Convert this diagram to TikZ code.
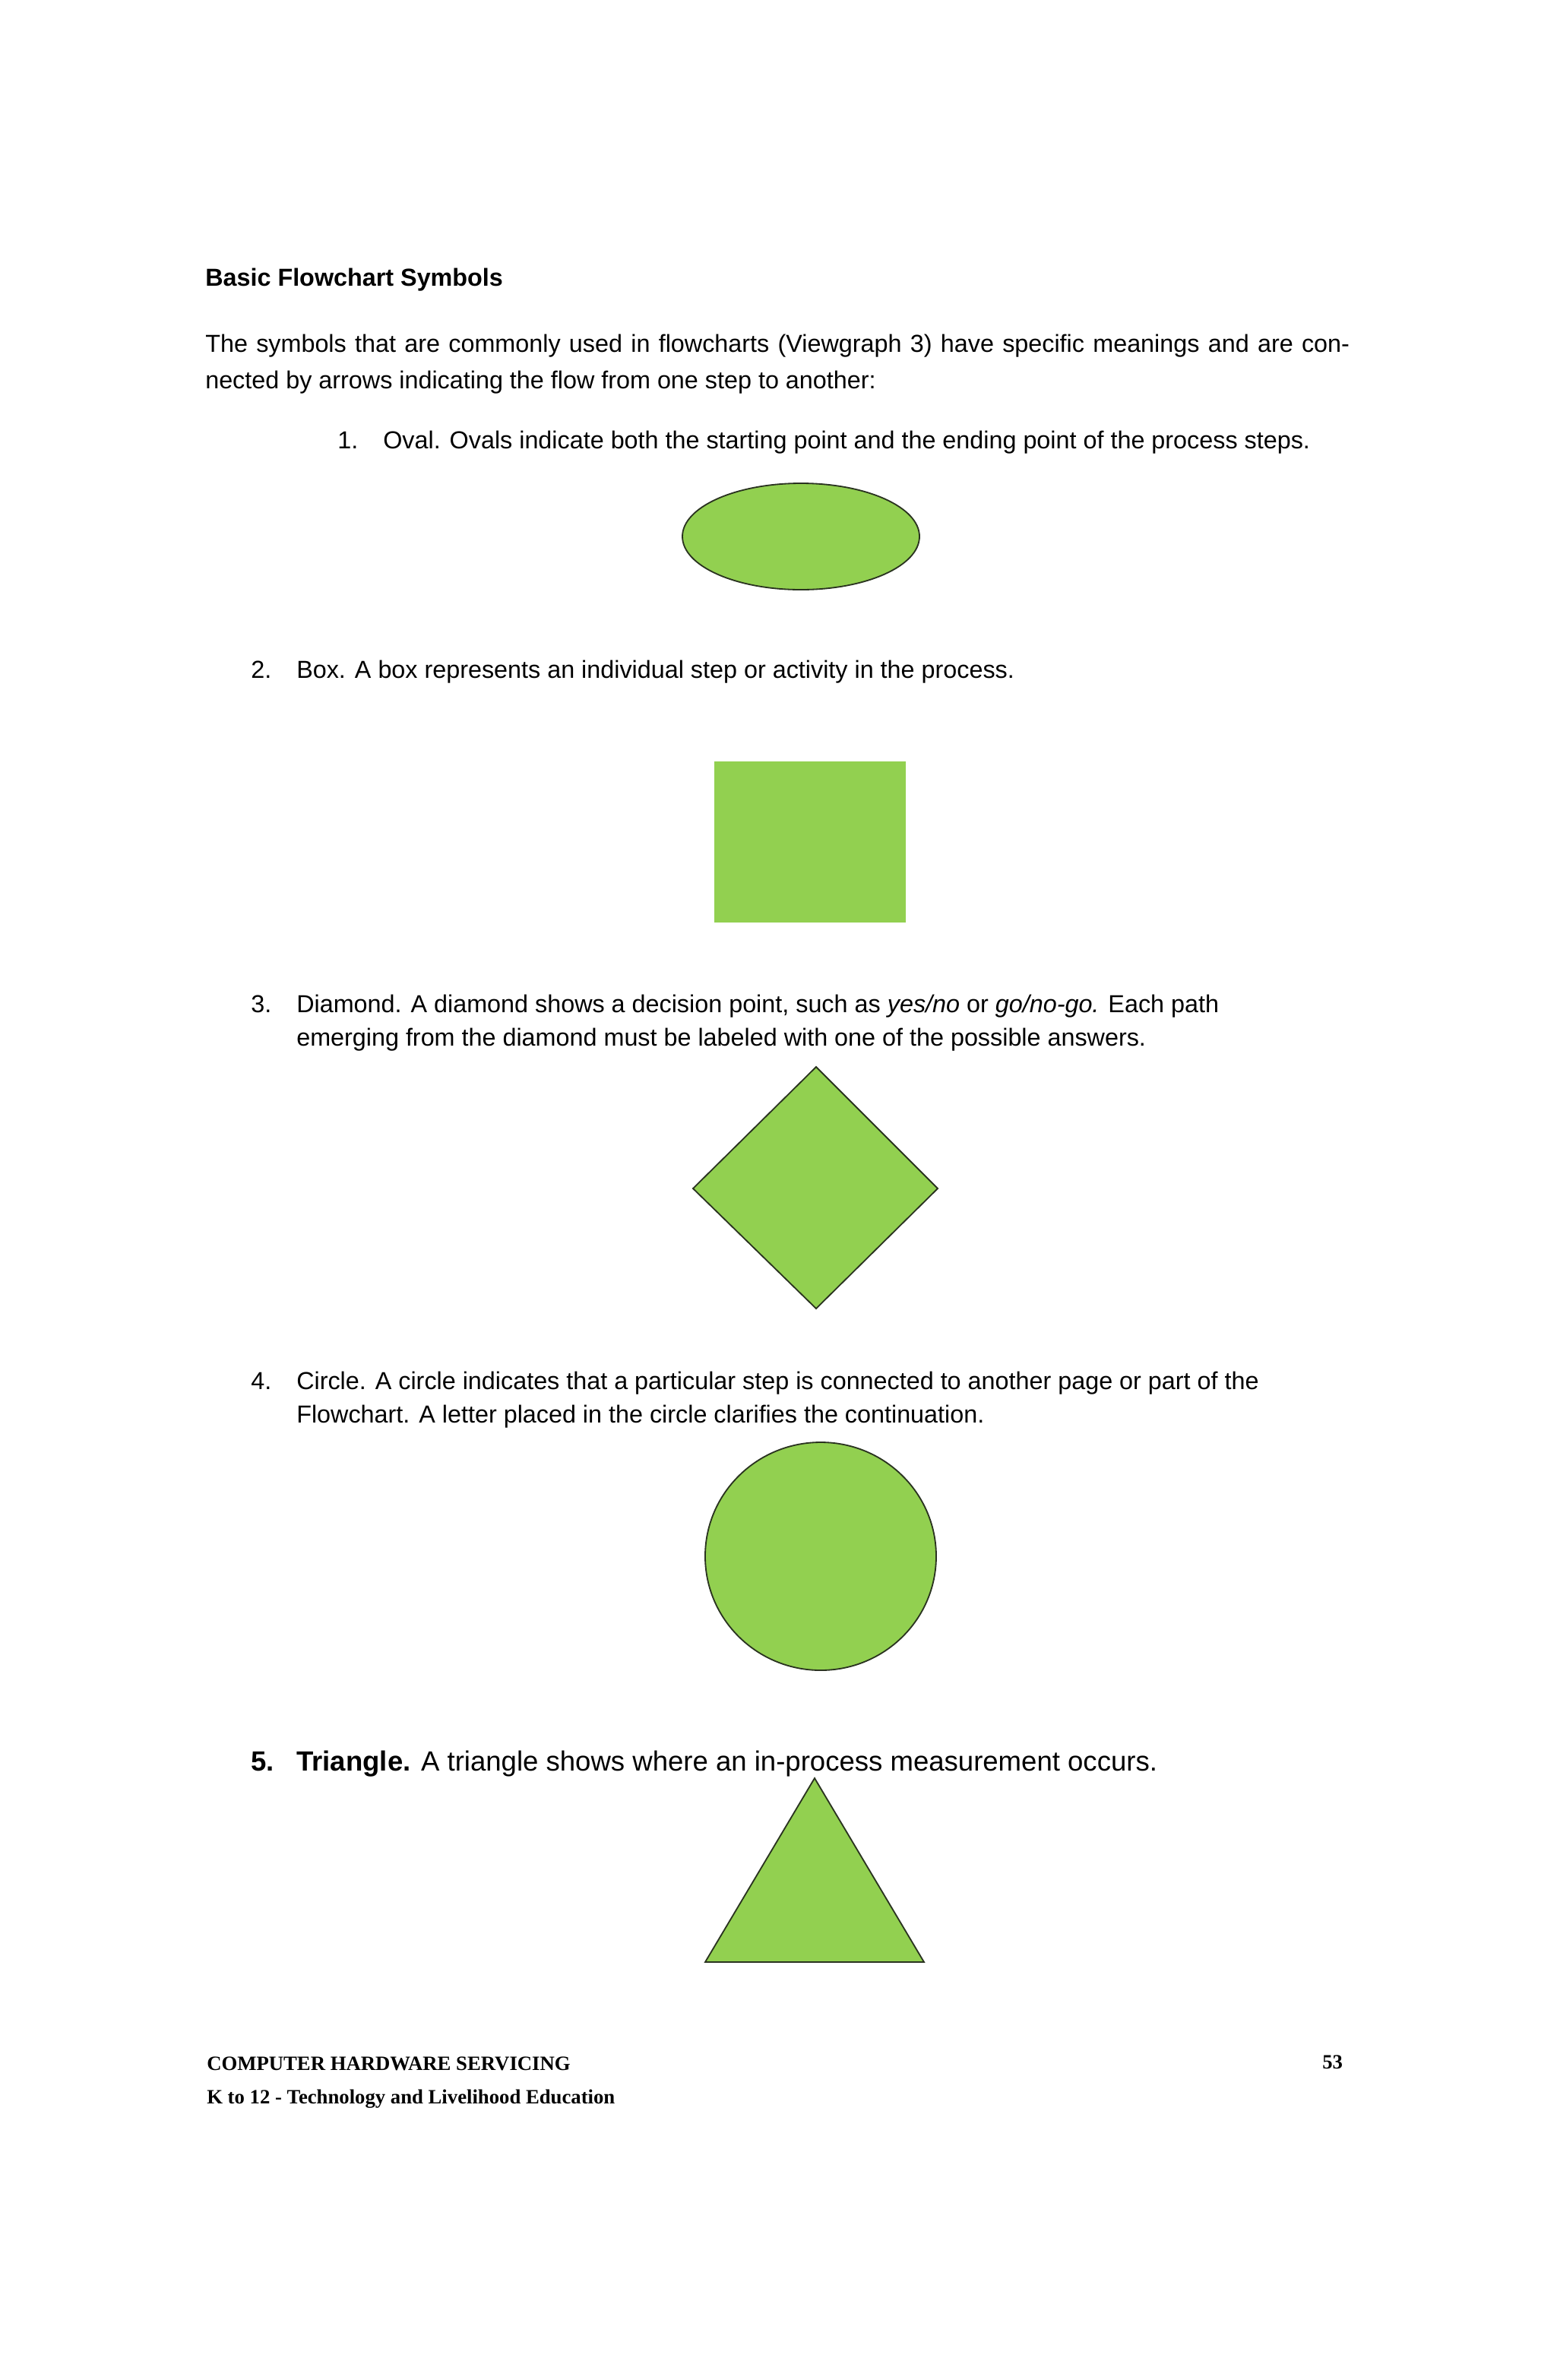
\documentclass[tikz,border=0pt]{standalone}
\usepackage{fontspec}
\setmainfont{Liberation Sans}
\newfontfamily\footfont{Liberation Serif}
\usetikzlibrary{shapes.geometric}
\definecolor{sgreen}{HTML}{92D050}
\definecolor{sedge}{HTML}{2A3320}
\begin{document}
\begin{tikzpicture}[x=0.05cm,y=-0.05cm,
  txt/.style={anchor=base west,inner sep=0pt,font=\fontsize{23}{34}\selectfont},
  shp/.style={fill=sgreen,draw=sedge,line width=1.3pt},
  foot/.style={anchor=base west,inner sep=0pt,font=\footfont\bfseries\fontsize{19}{24}\selectfont}]
\useasboundingbox[fill=white] (0,0) rectangle (1024,1566);
\node[txt,font=\bfseries\fontsize{23}{34}\selectfont] (title) at (135,188) {Basic Flowchart Symbols};
\node[txt,anchor=north west,text width=37.65cm,align=justify] (intro) at (135,220) {The symbols that are commonly used in flowcharts (Viewgraph 3) have specific meanings and are connected by arrows indicating the flow from one step to another:};
\node[txt] (n1) at (222,295) {1.};
\node[txt] (t1) at (252,295) {Oval. Ovals indicate both the starting point and the ending point of the process steps.};
\node[shp,ellipse,minimum width=7.8cm,minimum height=3.5cm,inner sep=0pt] (oval) at (527,353) {};
\node[txt] (n2) at (165,446) {2.};
\node[txt] (t2) at (195,446) {Box. A box represents an individual step or activity in the process.};
\node[fill=sgreen,minimum width=6.3cm,minimum height=5.3cm,inner sep=0pt] (box) at (533,554) {};
\node[txt] (n3) at (165,666) {3.};
\node[txt] (t3) at (195,666) {Diamond. A diamond shows a decision point, such as \textit{yes/no} or \textit{go/no-go.} Each path};
\node[txt] (t3b) at (195,688) {emerging from the diamond must be labeled with one of the possible answers.};
\draw[shp,line join=miter] (537,702) coordinate (dt) -- (617,782) -- (537,861) -- (456,782) -- cycle;
\node[txt] (n4) at (165,914) {4.};
\node[txt] (t4) at (195,914) {Circle. A circle indicates that a particular step is connected to another page or part of the};
\node[txt] (t4b) at (195,936) {Flowchart. A letter placed in the circle clarifies the continuation.};
\draw[shp] (540,1024) ellipse [x radius=76,y radius=75];
\node[txt,font=\fontsize{26}{34}\selectfont] (n5) at (165,1165) {\textbf{5.}};
\node[txt,font=\fontsize{26}{34}\selectfont] (t5) at (195,1165) {\textbf{Triangle.} A triangle shows where an in-process measurement occurs.};
\draw[shp,line join=miter] (536,1170) -- (608,1291) -- (464,1291) -- cycle;
\node[foot] (f1) at (136,1362) {COMPUTER HARDWARE SERVICING};
\node[foot] (f2) at (136,1384) {K to 12 - Technology and Livelihood Education};
\node[foot] (pg) at (870,1361) {53};
\end{tikzpicture}
\end{document}
